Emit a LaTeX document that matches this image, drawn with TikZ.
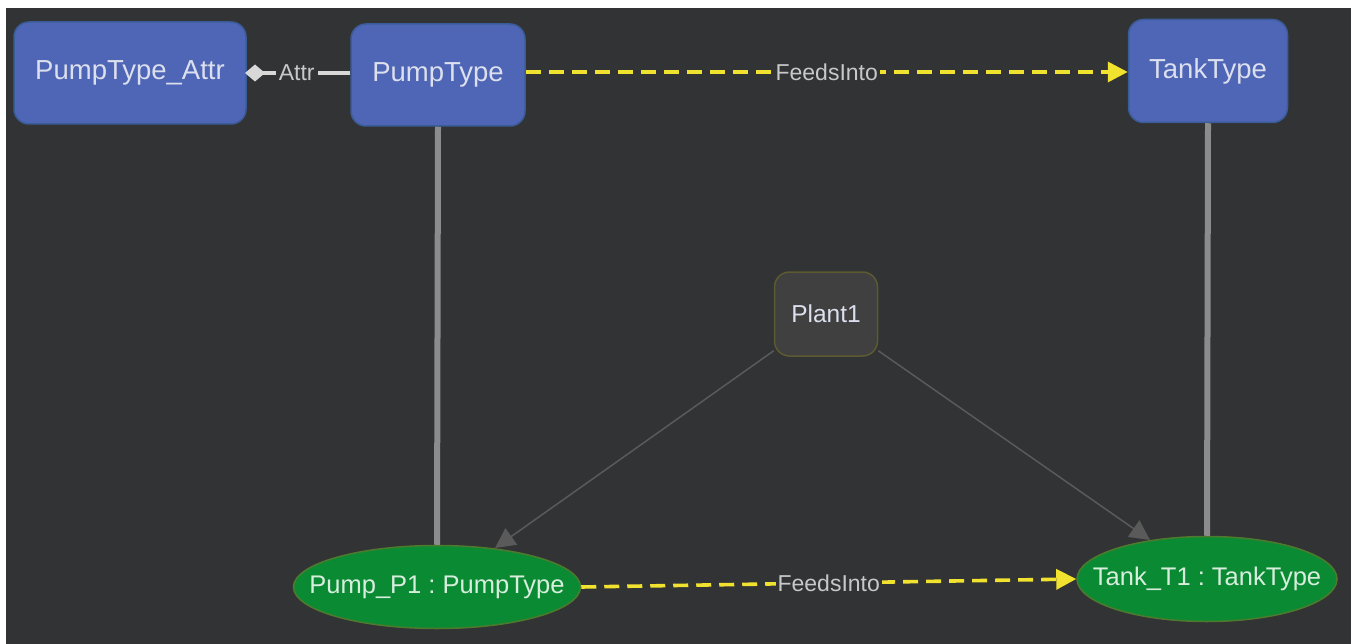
\documentclass[tikz,border=0pt]{standalone}
\usepackage{fontspec}
\setmainfont{Liberation Sans}
\usetikzlibrary{shapes.geometric,arrows.meta}
\definecolor{bgdark}{HTML}{323334}
\definecolor{typefill}{HTML}{4F65B5}
\definecolor{typeborder}{HTML}{3A5C98}
\definecolor{typetext}{HTML}{DCE0EE}
\definecolor{instfill}{HTML}{0B8A34}
\definecolor{instborder}{HTML}{4E7A2E}
\definecolor{insttext}{HTML}{D8EEDD}
\definecolor{plantfill}{HTML}{404040}
\definecolor{plantborder}{HTML}{5C5A30}
\definecolor{lbltext}{HTML}{C8C8C8}
\definecolor{feedyellow}{HTML}{F2E230}
\definecolor{linkgray}{HTML}{8C8C8C}
\definecolor{ptrgray}{HTML}{5A5A5A}
\definecolor{attrgray}{HTML}{D8D8D8}
\tikzset{
  typebox/.style={draw=typeborder, line width=1.5pt, fill=typefill, rounded corners=15pt,
    text=typetext, font=\fontsize{27.5}{30}\selectfont, inner sep=0pt},
  instell/.style={ellipse, draw=instborder, line width=1.5pt, fill=instfill,
    text=insttext, font=\frenchspacing\fontsize{25.5}{28}\selectfont, inner xsep=-45pt, inner ysep=-20pt},
  plantbox/.style={draw=plantborder, line width=1.5pt, fill=plantfill, rounded corners=15pt,
    text=typetext, font=\fontsize{24.5}{28}\selectfont, inner sep=0pt},
  elabel/.style={fill=bgdark, text=lbltext, font=\fontsize{23}{26}\selectfont, inner sep=2pt},
  feeds/.style={draw=feedyellow, line width=3.6pt, dash pattern=on 15pt off 8pt,
    -{Triangle[length=20pt,width=20pt]}},
  typelink/.style={draw=linkgray, line width=6pt},
  ptr/.style={draw=ptrgray, line width=1.5pt, -{Triangle[length=20pt,width=20pt]}},
  attrlink/.style={draw=attrgray, line width=4pt},
}
\begin{document}
\begin{tikzpicture}[x=1pt,y=-1pt]
\useasboundingbox (0,0) rectangle (1351,644);
\fill[white] (0,0) rectangle (1351,644);
\fill[bgdark] (6,8) rectangle (1351,644);

\node[typebox, minimum width=232pt, minimum height=102pt] (attr) at (130,73) {PumpType\_Attr};
\node[typebox, minimum width=174pt, minimum height=102pt] (pt) at (438,75) {PumpType};
\node[typebox, minimum width=159pt, minimum height=103pt] (tt) at (1208,71) {TankType};
\node[plantbox, minimum width=103pt, minimum height=84pt] (plant) at (826,314) {Plant1};
\node[instell, minimum width=287pt, minimum height=83pt] (p1) at (437,587) {Pump\_P1 : PumpType};
\node[instell, minimum width=260pt, minimum height=85pt] (t1) at (1207,579) {Tank\_T1 : TankType};

% type links
\draw[typelink] (pt.south) -- (p1.north);
\draw[typelink] (tt.south) -- (t1.north);

% Attr
\coordinate (attrtip) at (245,73);
\draw[attrlink] (pt.west |- attrtip) -- node[elabel, pos=0.6, inner xsep=3pt] (attrlbl) {Attr} ([xshift=16pt]attrtip);
\fill[attrgray] (attrtip) -- ++(10,-8.5) -- ++(10,8.5) -- ++(-10,8.5) -- cycle;

% Feeds
\draw[feeds] (pt.east |- 0,72) -- node[elabel, pos=0.5] (f1lbl) {FeedsInto} (tt.west |- 0,72);
\draw[feeds] (p1.east) -- node[elabel, pos=0.5] (f2lbl) {FeedsInto} (t1.west);

% Plant pointers
\draw[ptr] (plant.south west) ++(0,-6) -- (495,548);
\draw[ptr] (plant.south east) ++(0,-6) -- (1150,540);
\end{tikzpicture}
\end{document}
